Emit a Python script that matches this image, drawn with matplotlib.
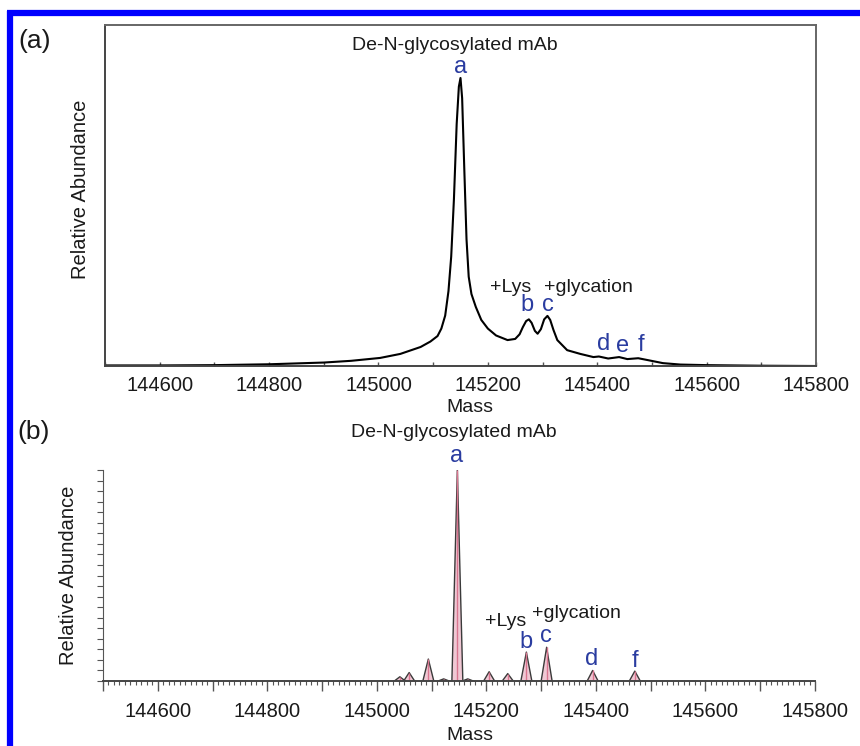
import matplotlib
matplotlib.use("Agg")
import matplotlib.pyplot as plt
import numpy as np

plt.rcParams['font.family'] = ['Liberation Sans', 'DejaVu Sans']

# panel (a): deconvoluted profile spectrum (mass, % abundance)
mass_a = [144500, 144600, 144700, 144800, 144900, 144950, 145003, 145040, 145077,
          145095, 145108, 145115, 145122, 145128, 145133, 145138, 145143, 145147,
          145150, 145153, 145157, 145161, 145165, 145170, 145178, 145188, 145200,
          145215, 145236, 145250, 145258, 145264, 145270, 145275, 145280, 145286,
          145291, 145297, 145303, 145309, 145314, 145320, 145327, 145345, 145369,
          145393, 145403, 145420, 145440, 145455, 145475, 145491, 145520, 145552,
          145600, 145700, 145800]
abund_a = [0.2, 0.2, 0.3, 0.6, 1.2, 1.8, 2.8, 4.2, 6.6,
           8.5, 10.4, 13, 17.5, 26, 38, 58, 84, 97,
           100, 93, 68, 44, 31, 25, 20.5, 16, 13,
           10.6, 9.0, 9.4, 11.0, 13.5, 15.6, 16.2, 15.0, 12.2,
           11.2, 12.8, 16.2, 17.4, 16.0, 12.5, 9.0, 5.5, 4.2,
           3.1, 3.3, 2.6, 3.1, 2.4, 2.7, 2.1, 1.0, 0.5,
           0.3, 0.1, 0.0]

# panel (b): deconvoluted peak list (mass, % abundance)
mass_b = [145042, 145059, 145094, 145122, 145147, 145166, 145205, 145239,
          145273, 145310, 145394, 145471]
abund_b = [2, 4, 10.4, 1, 100, 1, 4.4, 3.5, 13.7, 16, 5, 4.7]

xticks = [144600, 144800, 145000, 145200, 145400, 145600, 145800]

# peak letter labels
letters_a = ['a', 'b', 'c', 'd', 'e', 'f']
letter_pos_a = [(145150, 103.8), (145272, 21.2), (145309, 21.2),
                (145411, 7.6), (145447, 6.9), (145480, 7.3)]
letters_b = ['a', 'b', 'c', 'd', 'f']
letter_pos_b = [(145146, 106.6), (145273, 18.5), (145308, 21.3),
                (145393, 10.4), (145471, 9.5)]

blue = '#2a3ca0'
txt = '#1a1a1a'

fig = plt.figure(figsize=(8.6, 7.46), dpi=100)

# blue frame (top and left edges)
fig.add_artist(plt.Line2D([7/860, 1], [1-13/746, 1-13/746], color='#0000ff', lw=4.5,
                          transform=fig.transFigure, solid_capstyle='butt'))
fig.add_artist(plt.Line2D([10/860, 10/860], [0, 1-11/746], color='#0000ff', lw=4.5,
                          transform=fig.transFigure, solid_capstyle='butt'))

# ---- panel (a)
ax1 = fig.add_axes([105/860, 1-366/746, 711/860, 341/746])
ax1.plot(mass_a, abund_a, color='black', lw=1.5)
ax1.set_xlim(144500, 145800)
ax1.set_ylim(0, 118.4)
ax1.set_xticks(xticks)
ax1.set_xticks(np.arange(144500, 145801, 100), minor=True)
ax1.set_yticks([])
ax1.tick_params(axis='x', which='both', direction='in', length=3, width=1,
                color='#555555', labelsize=14.5, pad=7, labelcolor=txt)
for s in ax1.spines.values():
    s.set_color('#666666')
    s.set_linewidth(1.4)
ax1.spines['left'].set_color('#444444')
ax1.spines['bottom'].set_color('#444444')

ax1.text(145140, 111.4, 'De-N-glycosylated mAb', ha='center', va='center', fontsize=14, color=txt)
ax1.text(145241, 27.4, '+Lys', ha='center', va='center', fontsize=14, color=txt)
ax1.text(145384, 27.4, '+glycation', ha='center', va='center', fontsize=14, color=txt)
for lab, (x, y) in zip(letters_a, letter_pos_a):
    ax1.text(x, y, lab, ha='center', va='center', fontsize=17, color=blue)

# ---- panel (b)
ax2 = fig.add_axes([103/860, 1-681/746, 712/860, 211/746])
hw = 10
for m, h in zip(mass_b, abund_b):
    ax2.fill([m - hw, m, m + hw], [0, h, 0], color='#f0c8d4', lw=0)
    ax2.plot([m - hw, m, m + hw], [0, h, 0], color='#3a3a3a', lw=1.0)
ax2.vlines(mass_b, 0, abund_b, color='#d9758f', lw=1.0)
ax2.set_xlim(144500, 145800)
ax2.set_ylim(0, 100)
major_b = np.arange(144500, 145801, 100)
ax2.set_xticks(major_b)
ax2.set_xticklabels([str(t) if t in xticks else '' for t in major_b])
ax2.set_xticks(np.arange(144500, 145801, 10), minor=True)
ax2.set_yticks(np.arange(0, 101, 5))
ax2.set_yticklabels([])
ax2.tick_params(axis='x', which='major', length=7, width=1, color='#555555',
                labelsize=14.5, pad=8, labelcolor=txt)
ax2.tick_params(axis='x', which='minor', length=3, width=0.8, color='#555555')
ax2.tick_params(axis='y', which='major', length=4, width=0.8, color='#555555')
ax2.spines['top'].set_visible(False)
ax2.spines['right'].set_visible(False)
ax2.spines['left'].set_color('#555555')
ax2.spines['bottom'].set_color('#444444')
ax2.spines['bottom'].set_linewidth(1.4)

ax2.text(145140, 118, 'De-N-glycosylated mAb', ha='center', va='center', fontsize=14,
         color=txt, clip_on=False)
ax2.text(145236, 28, '+Lys', ha='center', va='center', fontsize=14, color=txt)
ax2.text(145365, 32, '+glycation', ha='center', va='center', fontsize=14, color=txt)
for lab, (x, y) in zip(letters_b, letter_pos_b):
    ax2.text(x, y, lab, ha='center', va='center', fontsize=17, color=blue, clip_on=False)

# panel letters and axis titles
fig.text(35/860, 1-41/746, '(a)', ha='center', va='center', fontsize=19, color=txt)
fig.text(34/860, 1-432/746, '(b)', ha='center', va='center', fontsize=19, color=txt)
fig.text(81/860, 1-189/746, 'Relative Abundance', rotation=90, ha='center', va='center',
         fontsize=14.5, color=txt)
fig.text(68/860, 1-575/746, 'Relative Abundance', rotation=90, ha='center', va='center',
         fontsize=14.5, color=txt)
fig.text(470/860, 1-407/746, 'Mass', ha='center', va='center', fontsize=14, color=txt)
fig.text(470/860, 1-735/746, 'Mass', ha='center', va='center', fontsize=14, color=txt)

fig.savefig('out.png', dpi=100)
